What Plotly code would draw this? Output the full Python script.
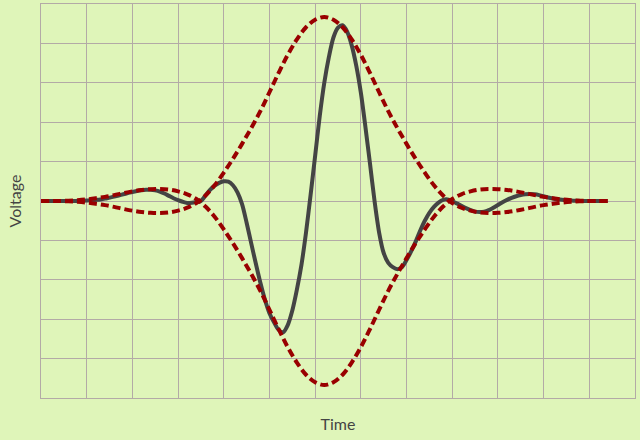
import plotly.graph_objects as go

# time samples for the signal (grid units, centred on the pulse)
time = [round(-6.2 + 0.1 * i, 1) for i in range(125)]

# signal (solid dark line)
signal = [
    0.0, 0.0, 0.0, 0.0, 0.0, 0.0, 0.0, 0.0, 0.003, 0.006,          # -6.2 .. -5.3
    0.01, 0.018, 0.028, 0.04, 0.06, 0.085, 0.11, 0.14, 0.17, 0.2,   # -5.2 .. -4.3
    0.23, 0.255, 0.275, 0.285, 0.285, 0.27, 0.24, 0.19, 0.13, 0.07, # -4.2 .. -3.3
    0.02, -0.02, -0.05, -0.045, -0.025, 0.0, 0.14, 0.28, 0.39, 0.46, # -3.2 .. -2.3
    0.5, 0.49, 0.4, 0.22, -0.08, -0.55, -1.07, -1.58, -2.07, -2.5,  # -2.2 .. -1.3
    -2.85, -3.08, -3.27, -3.33, -3.15, -2.78, -2.25, -1.62, -0.8, 0.15,  # -1.2 .. -0.3
    1.15, 2.15, 3.0, 3.65, 4.15, 4.4, 4.46, 4.3, 3.95, 3.43,       # -0.2 .. 0.7
    2.75, 1.88, 0.95, 0.0, -0.8, -1.32, -1.57, -1.68, -1.73, -1.68, # 0.8 .. 1.7
    -1.5, -1.28, -1.03, -0.75, -0.5, -0.3, -0.15, -0.04, 0.03, 0.04, # 1.8 .. 2.7
    0.0, -0.06, -0.12, -0.18, -0.23, -0.27, -0.28, -0.27, -0.23, -0.17,  # 2.8 .. 3.7
    -0.1, -0.03, 0.03, 0.08, 0.12, 0.15, 0.17, 0.18, 0.17, 0.15,   # 3.8 .. 4.7
    0.12, 0.09, 0.065, 0.045, 0.03, 0.02, 0.012, 0.006, 0.003, 0.0, # 4.8 .. 5.7
    0.0, 0.0, 0.0, 0.0, 0.0,                                        # 5.8 .. 6.2
]

# time samples for the envelopes
env_time = [round(-6.2 + 0.2 * i, 1) for i in range(63)]

# envelope curves (dashed dark red)
envelope_upper = [
    0.0, 0.0, -0.002, -0.008, -0.02, -0.04, -0.07, -0.105, -0.15, -0.2,
    -0.245, -0.28, -0.3, -0.305, -0.29, -0.245, -0.17, -0.05, 0.14, 0.4,
    0.72, 1.07, 1.45, 1.85, 2.28, 2.76, 3.25, 3.71, 4.1, 4.41,
    4.6, 4.67, 4.6, 4.41, 4.1, 3.71, 3.25, 2.76, 2.28, 1.85,
    1.45, 1.07, 0.72, 0.4, 0.14, -0.05, -0.17, -0.245, -0.29, -0.305,
    -0.3, -0.28, -0.245, -0.2, -0.15, -0.105, -0.07, -0.04, -0.02, -0.008,
    -0.002, 0.0, 0.0,
]
envelope_lower = [
    0.0, 0.0, 0.002, 0.008, 0.02, 0.04, 0.07, 0.105, 0.15, 0.2,
    0.245, 0.28, 0.3, 0.305, 0.29, 0.245, 0.17, 0.05, -0.14, -0.4,
    -0.72, -1.07, -1.45, -1.85, -2.28, -2.76, -3.25, -3.71, -4.1, -4.41,
    -4.6, -4.67, -4.6, -4.41, -4.1, -3.71, -3.25, -2.76, -2.28, -1.85,
    -1.45, -1.07, -0.72, -0.4, -0.14, 0.05, 0.17, 0.245, 0.29, 0.305,
    0.3, 0.28, 0.245, 0.2, 0.15, 0.105, 0.07, 0.04, 0.02, 0.008,
    0.002, 0.0, 0.0,
]

BG = "#dff5b9"
GRID = "#b3aaa6"
FONT = "Comic Sans MS, Lato, sans-serif"

fig = go.Figure()
fig.add_trace(go.Scatter(x=time, y=signal, mode="lines",
                         line=dict(color="#444444", width=4, shape="spline", smoothing=0.8),
                         showlegend=False, hoverinfo="skip"))
for env in (envelope_upper, envelope_lower):
    fig.add_trace(go.Scatter(x=env_time, y=env, mode="lines",
                             line=dict(color="#990000", width=4, shape="spline", dash="8px,4px"),
                             showlegend=False, hoverinfo="skip"))

fig.update_layout(
    width=640, height=440,
    paper_bgcolor=BG, plot_bgcolor=BG,
    margin=dict(l=41, r=5, t=4, b=42),
    font=dict(family=FONT, size=16, color="#444444"),
    xaxis=dict(range=[-6.2, 6.8], tick0=-6.2, dtick=1, showticklabels=False,
               ticks="", showgrid=True, gridcolor=GRID, gridwidth=1, zeroline=False,
               showline=True, mirror=True, linecolor=GRID, linewidth=1, automargin=False,
               title=dict(text="Time", standoff=20, font=dict(family=FONT, size=16, color="#444444"))),
    yaxis=dict(range=[-5, 5], tick0=-5, dtick=1, showticklabels=False,
               ticks="", showgrid=True, gridcolor=GRID, gridwidth=1, zeroline=False,
               showline=True, mirror=True, linecolor=GRID, linewidth=1, automargin=False,
               title=dict(text="Voltage", standoff=14, font=dict(family=FONT, size=16, color="#444444"))),
)

fig.write_html("out.html",
               config={"displayModeBar": False},
               post_script="document.body.style.margin='0';document.body.style.padding='0';"
                           "document.body.style.background='" + BG + "';")
